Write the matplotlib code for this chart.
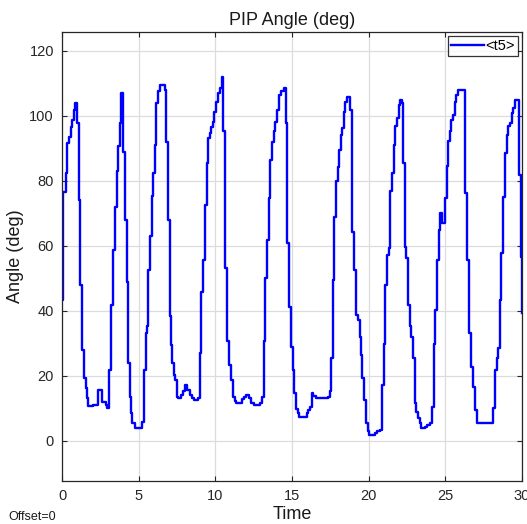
import numpy as np
import matplotlib
matplotlib.use("Agg")
import matplotlib.pyplot as plt

plt.rcParams['font.family'] = ['Liberation Sans', 'DejaVu Sans']

## step times (s) and angle values (deg)
t = [0.00, 0.05, 0.22, 0.33, 0.44, 0.55, 0.65, 0.74, 0.83, 0.96, 1.07, 1.18, 1.27, 1.40,
     1.53, 1.62, 1.66, 2.03, 2.36, 2.62, 2.84, 2.93, 3.06, 3.17, 3.28, 3.34, 3.45, 3.58,
     3.67, 3.75, 3.82, 3.95, 4.10, 4.21, 4.30, 4.41, 4.50, 4.58, 4.72,
     5.22, 5.33, 5.44, 5.54, 5.61, 5.70, 5.83, 5.94, 6.05, 6.13, 6.24, 6.35, 6.68, 6.79,
     6.90, 7.01, 7.09, 7.18, 7.27, 7.35, 7.49, 7.57, 7.75, 7.88, 8.01, 8.17, 8.32, 8.45,
     8.62, 8.84, 8.97, 9.08, 9.21, 9.32, 9.43, 9.54, 9.63, 9.74, 9.84, 9.93,
     10.02, 10.17, 10.30, 10.41, 10.52, 10.63, 10.76, 10.91, 11.04, 11.18, 11.29, 11.35,
     11.75, 11.88, 12.00, 12.18, 12.35, 12.49, 12.88, 13.01, 13.14, 13.25, 13.36, 13.47,
     13.58, 13.69, 13.80, 13.91, 14.01, 14.12, 14.30, 14.45, 14.60, 14.70, 14.82, 14.93,
     15.04, 15.15, 15.26, 15.37, 15.48, 15.96, 16.07, 16.18, 16.28, 16.39, 16.57, 17.38,
     17.48, 17.57, 17.66, 17.75, 17.87, 17.99, 18.10, 18.20, 18.29, 18.40, 18.49, 18.62,
     18.79, 18.93, 19.06, 19.19, 19.32, 19.41, 19.49, 19.60, 19.71, 19.84, 19.95,
     20.06, 20.39, 20.56, 20.78, 20.87, 20.98, 21.09, 21.20, 21.31, 21.41, 21.52, 21.63,
     21.74, 21.85, 21.96, 22.07, 22.18, 22.27, 22.35, 22.46, 22.57, 22.68, 22.79, 22.90,
     23.01, 23.12, 23.23, 23.33, 23.44, 23.66, 23.84, 23.99, 24.14, 24.25, 24.36, 24.47,
     24.58, 24.69, 24.80, 24.97, 25.10, 25.19, 25.30, 25.41, 25.52, 25.63, 25.74, 25.85,
     26.33, 26.46, 26.59, 26.72, 26.83, 26.94, 27.05, 28.14, 28.25, 28.36, 28.47, 28.57,
     28.68, 28.79, 28.90, 29.01, 29.12, 29.23, 29.34, 29.45, 29.56, 29.82, 29.95, 30.00]
angle = [43.4, 76.7, 82.4, 91.6, 93.6, 96.5, 98.8, 101.8, 103.9, 97.9, 74.2, 48.0, 28.0, 19.3,
         16.2, 13.1, 10.6, 11.0, 15.6, 11.8, 11.0, 10.2, 21.8, 41.8, 47.5, 58.8, 72.0, 82.9,
         90.6, 97.8, 107.0, 89.0, 68.0, 49.0, 24.0, 13.6, 8.6, 5.5, 4.0,
         5.9, 21.8, 33.1, 35.2, 52.6, 62.9, 75.2, 82.4, 91.0, 103.9, 107.5, 109.5, 108.0, 92.1,
         68.0, 38.3, 29.5, 23.9, 20.3, 18.8, 13.6, 13.1, 14.1, 15.2, 17.2, 15.7, 14.1, 13.1,
         12.6, 13.1, 27.0, 45.9, 55.7, 72.6, 85.4, 93.1, 94.7, 96.5, 98.2, 101.3,
         104.4, 107.0, 108.5, 112.1, 95.2, 53.1, 30.6, 23.4, 18.8, 13.6, 12.1, 11.6,
         12.8, 13.6, 14.1, 13.1, 11.6, 11.1, 11.6, 13.6, 30.6, 50.0, 61.8, 74.7,
         86.5, 92.1, 95.2, 98.2, 101.8, 106.5, 107.5, 108.5, 97.7, 60.8, 41.3, 29.0,
         21.7, 14.6, 9.9, 8.5, 7.4, 8.4, 9.4, 10.4, 14.6, 13.8, 13.3, 13.6,
         15.2, 25.4, 49.5, 69.0, 79.8, 84.4, 89.6, 94.2, 96.2, 101.3, 104.4, 105.9,
         101.8, 64.4, 52.6, 38.8, 37.2, 32.0, 26.5, 19.3, 12.6, 5.4, 2.9,
         1.8, 2.3, 2.9, 3.4, 17.2, 29.9, 47.9, 57.2, 59.2, 76.8, 82.3, 91.1,
         96.8, 99.3, 103.4, 105.0, 104.0, 85.4, 59.7, 56.1, 41.8, 35.2, 32.0, 25.4,
         11.6, 9.0, 6.9, 5.4, 3.8, 4.3, 4.8, 5.4, 10.5, 29.9, 40.1, 55.7,
         64.9, 70.0, 67.0, 74.7, 84.5, 92.2, 95.3, 98.8, 100.3, 104.4, 106.5, 107.8,
         76.3, 55.7, 33.1, 22.8, 16.6, 9.5, 5.4, 10.0, 21.8, 25.4, 28.5, 43.4,
         57.7, 75.1, 88.5, 94.2, 96.8, 97.8, 100.8, 102.4, 105.0, 81.9, 56.7, 39.3]

xticks = [0, 5, 10, 15, 20, 25, 30]
yticks = [0, 20, 40, 60, 80, 100, 120]

fig = plt.figure(figsize=(5.27, 5.24), dpi=100)
ax = fig.add_axes([0.1182, 0.0826, 0.8717, 0.8557])

ax.step(t, angle, where='post', color='#0000ff', linewidth=1.7, label='<t5>')

ax.set_xlim(0, 30)
ax.set_ylim(-12.3, 125.7)
ax.set_xticks(xticks)
ax.set_yticks(yticks)
ax.grid(True, color='#dcdcdc', linewidth=0.9)
ax.set_axisbelow(True)

for s in ax.spines.values():
    s.set_color('#262626')
    s.set_linewidth(0.9)
ax.tick_params(direction='in', top=True, right=True, length=3.5, width=0.8,
               color='#262626', labelsize=10.5, labelcolor='#262626', pad=6)

ax.set_title('PIP Angle (deg)', fontsize=13, color='#1a1a1a', pad=5)
ax.set_ylabel('Angle (deg)', fontsize=13, color='#1a1a1a', labelpad=4)
ax.set_xlabel('Time', fontsize=13, color='#1a1a1a', labelpad=2)

leg = ax.legend(loc='upper right', fontsize=10.5, frameon=True, fancybox=False,
                borderaxespad=0.25, handlelength=2.3, handletextpad=0.1,
                borderpad=0.2)
leg.get_frame().set_edgecolor('black')
leg.get_frame().set_linewidth(0.9)

fig.text(8 / 527, 1 - 517 / 524, 'Offset=0', fontsize=9, color='#1a1a1a',
         ha='left', va='center')

fig.savefig('out.png', dpi=100)
